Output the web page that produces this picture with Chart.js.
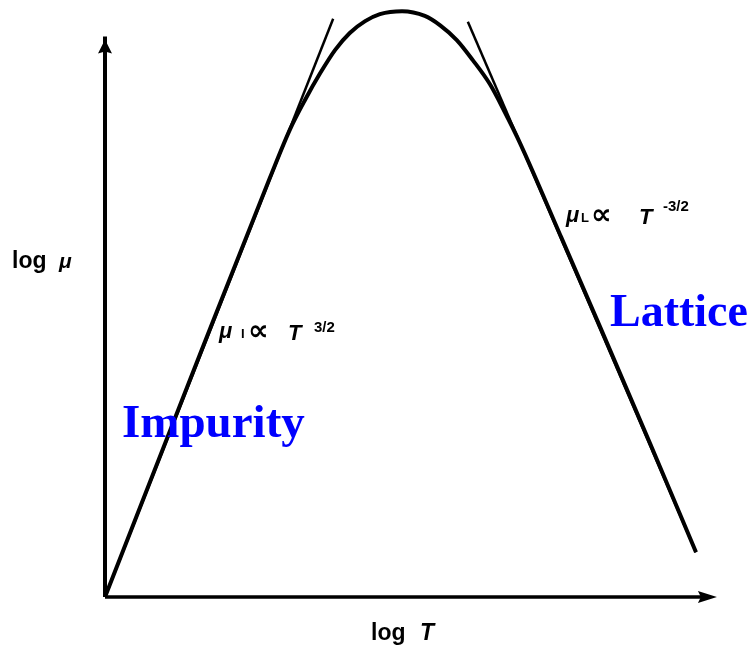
<!DOCTYPE html>
<html><head><meta charset="utf-8">
<script src="https://cdn.jsdelivr.net/npm/chart.js@4"></script>
<style>html,body{margin:0;padding:0;background:#fff;overflow:hidden}canvas{display:block}</style>
</head><body>
<canvas id="c" width="753" height="649"></canvas>
<script>
// Carrier mobility versus temperature, log–log sketch (arbitrary log units)
const logT  = [0, 15.4, 26.8, 30.1, 32.5, 35.0, 37.4, 39.8, 42.3, 44.7, 48.3, 52.0, 54.5, 57.2, 59.8, 62.6, 65.0, 67.5, 74.0, 80.5, 88.6, 96.1];
const logMu = [0, 41.0, 71.0, 79.3, 84.2, 88.8, 92.7, 95.6, 97.6, 98.8, 99.3, 98.5, 96.9, 94.4, 91.0, 86.9, 82.2, 76.9, 61.4, 45.8, 26.1, 7.6];
// impurity-scattering asymptote, mu_I ~ T^(3/2)
const impT  = [0, 37.1];
const impMu = [0, 98.0];
// lattice-scattering asymptote, mu_L ~ T^(-3/2)
const latT  = [59.0, 96.1];
const latMu = [97.5, 7.6];
// axis lengths
const axisXEnd = 99.5;
const axisYEnd = 95;

const pts = (xs, ys) => xs.map((x, i) => ({x, y: ys[i]}));

const INK = '#000';
const BLUE = '#0000ff';

function run(ctx, parts, y) {
  for (const p of parts) {
    ctx.font = p.font;
    ctx.fillText(p.t, p.x, y + (p.dy || 0));
  }
}

const annotations = {
  id: 'annotations',
  afterDatasetsDraw(chart) {
    const ctx = chart.ctx;
    const xs = chart.scales.x, ys = chart.scales.y;
    ctx.save();
    ctx.fillStyle = INK;

    // arrowheads at the ends of both axes
    const ox = xs.getPixelForValue(0), oy = ys.getPixelForValue(0);
    const xe = xs.getPixelForValue(axisXEnd), ye = ys.getPixelForValue(axisYEnd);
    ctx.beginPath();
    ctx.moveTo(xe, oy);
    ctx.lineTo(xe - 19, oy - 6);
    ctx.lineTo(xe - 16, oy);
    ctx.lineTo(xe - 19, oy + 6);
    ctx.closePath();
    ctx.fill();
    ctx.beginPath();
    ctx.moveTo(ox, ye + 3);
    ctx.lineTo(ox + 7, ye + 17);
    ctx.lineTo(ox, ye + 15);
    ctx.lineTo(ox - 7, ye + 17);
    ctx.closePath();
    ctx.fill();

    ctx.textBaseline = 'alphabetic';
    ctx.textAlign = 'left';
    const sans = '"Liberation Sans", Arial, sans-serif';
    const prop = 'bold 29px "DejaVu Sans", sans-serif';

    // axis titles
    run(ctx, [
      {t: 'log', x: 12, font: 'bold 23px ' + sans},
      {t: 'μ', x: 59, font: 'bold italic 21px ' + sans}
    ], 268);
    run(ctx, [
      {t: 'log', x: 371, font: 'bold 23px ' + sans},
      {t: 'T', x: 420, font: 'bold italic 23px ' + sans}
    ], 640);

    // power-law labels
    run(ctx, [
      {t: 'μ', x: 219, font: 'bold italic 22px ' + sans},
      {t: 'I', x: 241, font: 'bold 13px ' + sans},
      {t: '∝', x: 248, font: prop, dy: 2},
      {t: 'T', x: 288, font: 'bold italic 22px ' + sans, dy: 2},
      {t: '3/2', x: 314, font: 'bold 15px ' + sans, dy: -6}
    ], 338);
    run(ctx, [
      {t: 'μ', x: 566, font: 'bold italic 22px ' + sans},
      {t: 'L', x: 581, font: 'bold 13px ' + sans},
      {t: '∝', x: 591, font: prop, dy: 2},
      {t: 'T', x: 639, font: 'bold italic 22px ' + sans, dy: 2},
      {t: '-3/2', x: 663, font: 'bold 15px ' + sans, dy: -11}
    ], 222);

    // scattering regimes
    ctx.fillStyle = BLUE;
    ctx.font = 'bold 47px "Liberation Serif", "Times New Roman", serif';
    ctx.fillText('Impurity', 122, 437);
    ctx.font = 'bold 46px "Liberation Serif", "Times New Roman", serif';
    ctx.fillText('Lattice', 610, 326);
    ctx.restore();
  }
};

const lineDs = (data, width) => ({
  data, borderColor: INK, borderWidth: width, pointRadius: 0,
  fill: false, clip: false, borderCapStyle: 'butt', borderJoinStyle: 'round'
});

new Chart(document.getElementById('c'), {
  type: 'line',
  data: {
    datasets: [
      lineDs(pts([0, axisXEnd - 2], [0, 0]), 3.5),
      lineDs(pts([0, 0], [0, axisYEnd]), 4),
      lineDs(pts(impT, impMu), 2.5),
      lineDs(pts(latT, latMu), 2.5),
      Object.assign(lineDs(pts(logT, logMu), 4), {cubicInterpolationMode: 'monotone'})
    ]
  },
  options: {
    responsive: false,
    animation: false,
    devicePixelRatio: 1,
    layout: {padding: {left: 105, right: 33, top: 7, bottom: 52}},
    plugins: {legend: {display: false}, tooltip: {enabled: false}},
    scales: {
      x: {type: 'linear', min: 0, max: 100, display: false},
      y: {type: 'linear', min: 0, max: 100, display: false}
    }
  },
  plugins: [annotations]
});
</script>
</body></html>
